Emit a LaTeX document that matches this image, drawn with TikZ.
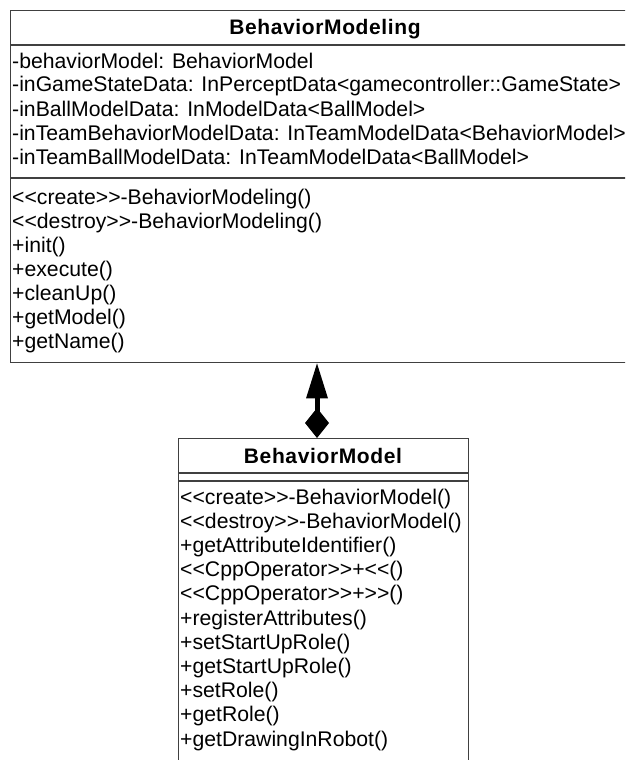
\documentclass[tikz,border=0pt]{standalone}
\usepackage{fontspec}
\setmainfont{Liberation Sans}[Ligatures=TeXOff]
\newfontfamily\titlefont{Liberation Sans}[LetterSpace=3,Ligatures=TeXOff]
\usetikzlibrary{arrows.meta}
\definecolor{umlline}{RGB}{64,64,64}
\tikzset{
  classbox/.style={draw=umlline, line width=1.4pt, fill=white, anchor=north west, inner sep=0pt},
  sepline/.style={draw=umlline, line width=1.4pt},
  member/.style={anchor=base west, inner sep=0pt, font=\fontsize{21.2}{24}\selectfont},
  classname/.style={anchor=base, inner sep=0pt, font=\titlefont\bfseries\fontsize{21}{24}\selectfont},
  composition/.style={line width=5pt, black,
    {Diamond[width=24pt,length=30pt,line width=0pt]}-{Triangle[width=22pt,length=35pt,line width=0pt]}},
}
\begin{document}
\begin{tikzpicture}[x=1pt,y=-1pt]
\useasboundingbox (0,0) rectangle (625,760);
\clip (0,0) rectangle (625,760);

% class BehaviorModeling
\node[classbox, minimum width=630pt, minimum height=352pt] (modeling) at (10,10) {};
\draw[sepline] (modeling.west |- 0,45) -- (modeling.east |- 0,45);
\draw[sepline] (modeling.west |- 0,178) -- (modeling.east |- 0,178);
\node[classname] (modelingname) at (325,35) {BehaviorModeling};
\foreach \t [count=\i from 0] in {
  -behaviorModel: BehaviorModel,
  -inGameStateData: InPerceptData<gamecontroller::GameState>,
  -inBallModelData: InModelData<BallModel>,
  -inTeamBehaviorModelData: InTeamModelData<BehaviorModel>,
  -inTeamBallModelData: InTeamModelData<BallModel>}
  \node[member] (modelingattr\i) at (12,{68+24*\i}) {\t};
\foreach \t [count=\i from 0] in {
  <<create>>-BehaviorModeling(),
  <<destroy>>-BehaviorModeling(),
  +init(),
  +execute(),
  +cleanUp(),
  +getModel(),
  +getName()}
  \node[member] (modelingop\i) at (12,{204+24*\i}) {\t};

% class BehaviorModel
\node[classbox, minimum width=290pt, minimum height=340pt] (model) at (178,438) {};
\draw[sepline] (model.west |- 0,473) -- (model.east |- 0,473);
\draw[sepline] (model.west |- 0,481) -- (model.east |- 0,481);
\node[classname] (modelname) at (323,463) {BehaviorModel};
\foreach \t [count=\i from 0] in {
  <<create>>-BehaviorModel(),
  <<destroy>>-BehaviorModel(),
  +getAttributeIdentifier(),
  <<CppOperator>>+<<(),
  <<CppOperator>>+>>(),
  +registerAttributes(),
  +setStartUpRole(),
  +getStartUpRole(),
  +setRole(),
  +getRole(),
  +getDrawingInRobot()}
  \node[member] (modelop\i) at (180,{504+24.2*\i}) {\t};

% composition connector
\coordinate (axis) at (317,0);
\draw[composition] (model.north -| axis) -- (modeling.south -| axis);
\end{tikzpicture}
\end{document}
